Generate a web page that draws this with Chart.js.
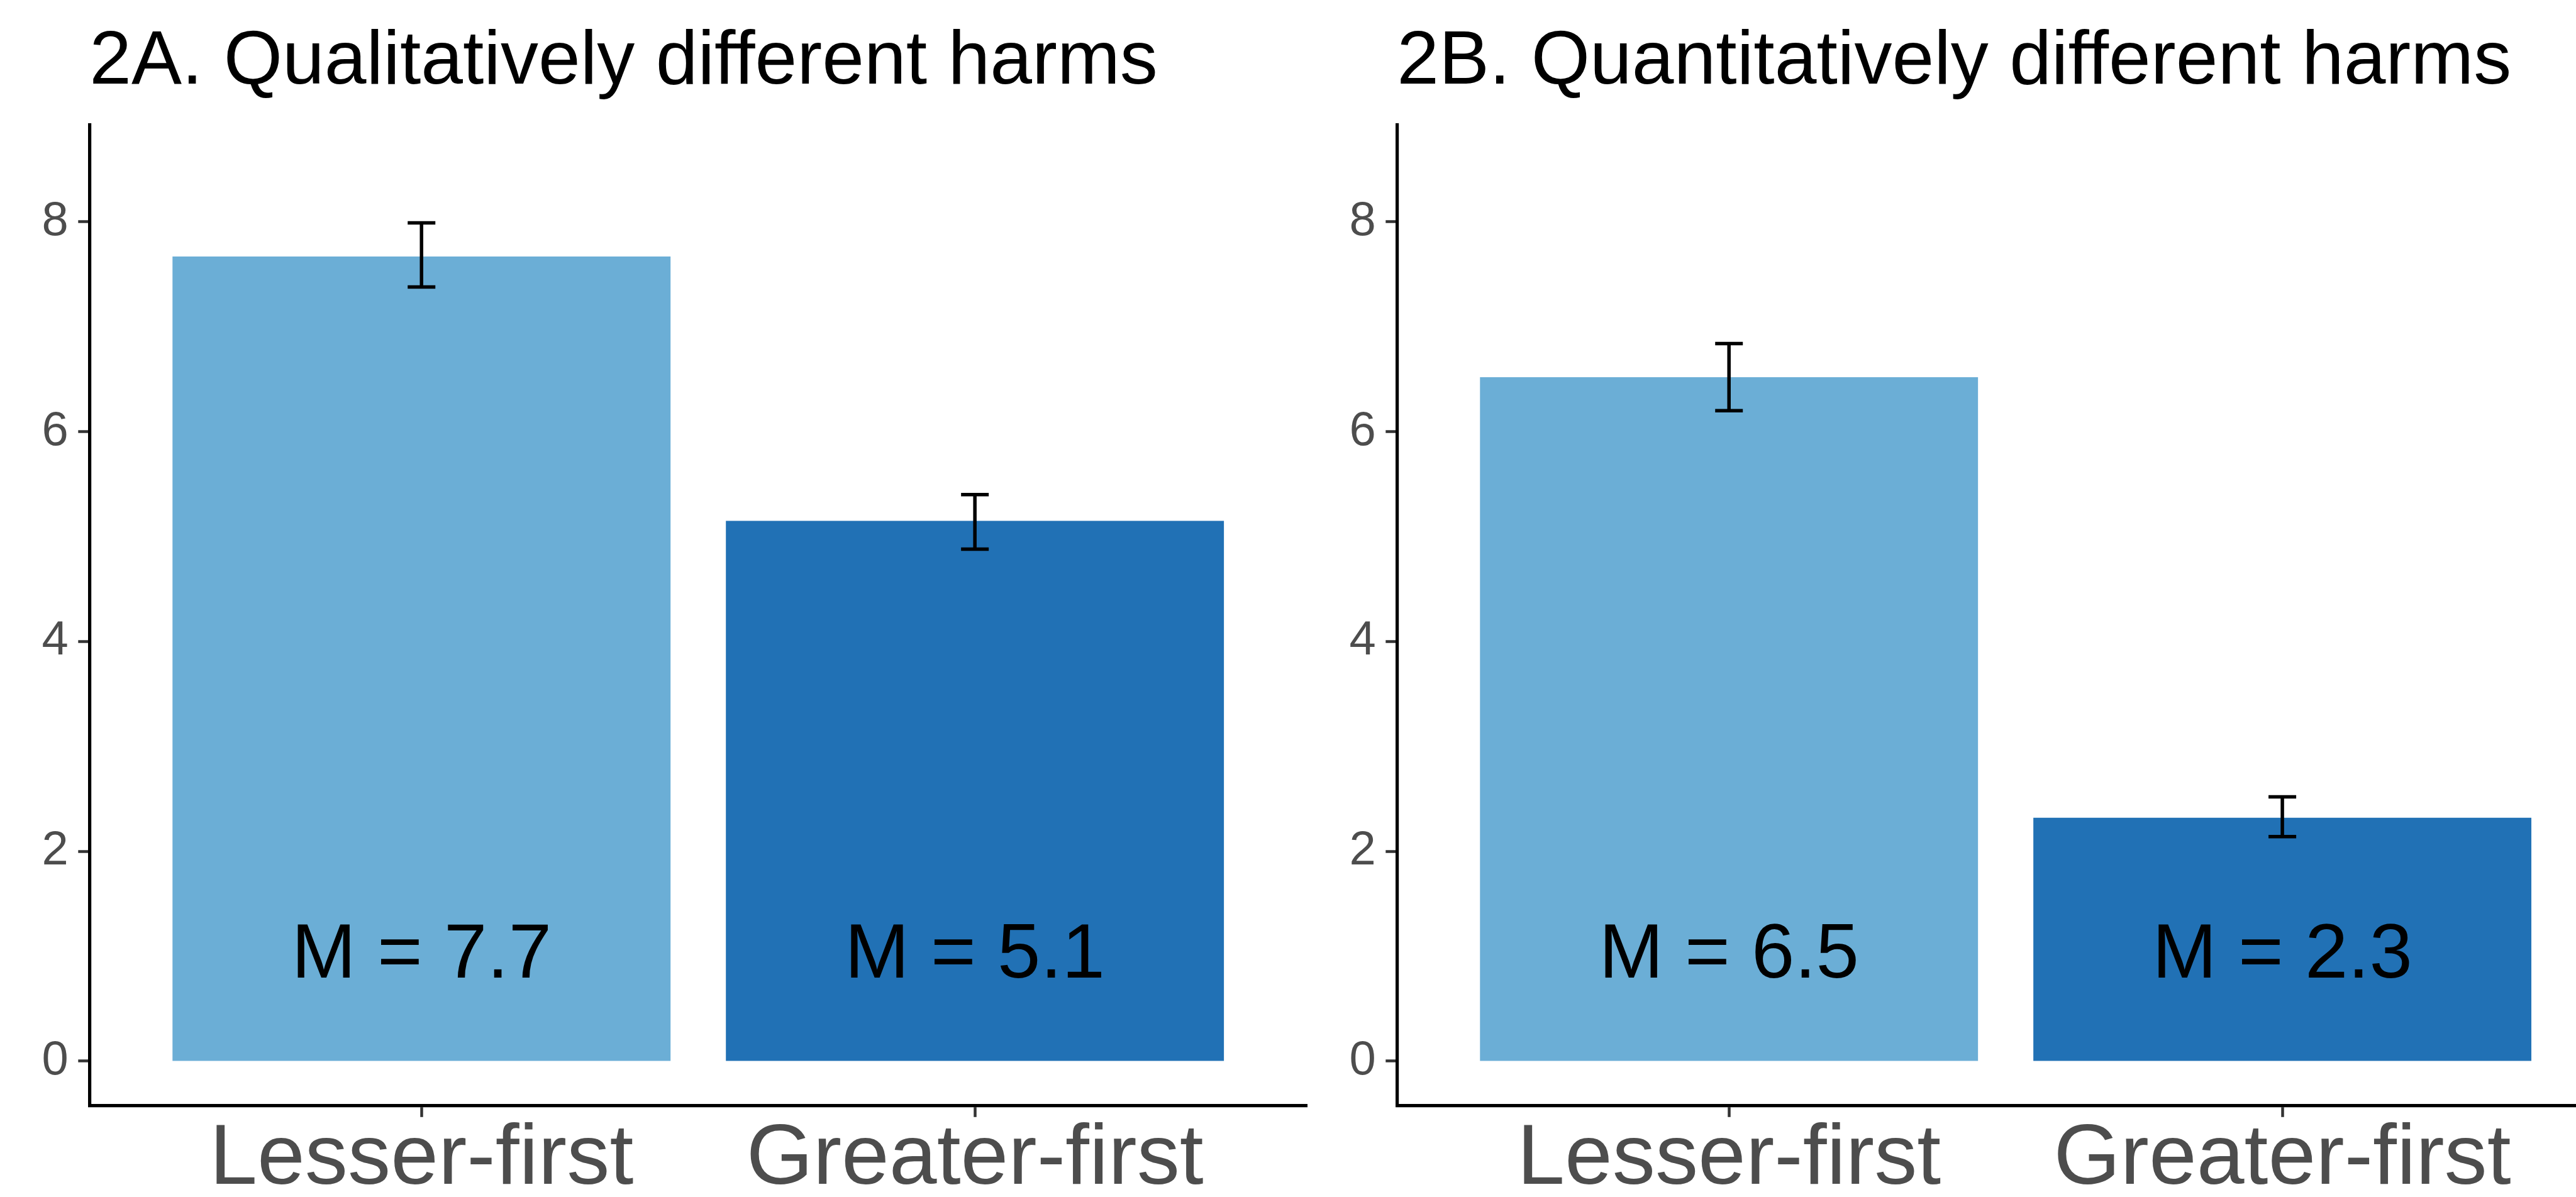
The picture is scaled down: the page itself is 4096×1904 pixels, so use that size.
<!DOCTYPE html>
<html>
<head>
<meta charset="utf-8">
<script src="https://cdn.jsdelivr.net/npm/chart.js@4.4.1/dist/chart.umd.min.js"></script>
<style>
  html, body { margin: 0; padding: 0; background: #fff; overflow: hidden; }
  body { width: 4096px; height: 1904px; position: relative; }
  canvas { position: absolute; top: 0; }
  #qual { left: 0; }
  #quant { left: 2080px; }
</style>
</head>
<body>
<canvas id="qual" width="2150" height="1904"></canvas>
<canvas id="quant" width="2200" height="1904"></canvas>
<script>
const categories = ['Lesser-first', 'Greater-first'];
const titles = ['2A. Qualitatively different harms', '2B. Quantitatively different harms'];

// 2A
const qualMeans = [7.67, 5.15];
const qualLower = [7.38, 4.88];
const qualUpper = [7.99, 5.40];
const qualLabels = ['M = 7.7', 'M = 5.1'];

// 2B
const quantMeans = [6.52, 2.32];
const quantLower = [6.20, 2.14];
const quantUpper = [6.84, 2.52];
const quantLabels = ['M = 6.5', 'M = 2.3'];

const yTicks = [0, 2, 4, 6, 8];
const barColors = ['#6BAED6', '#2171B5'];

const FONT = "'Liberation Sans', Arial, Helvetica, sans-serif";
Chart.defaults.font.family = FONT;

// error bars + "M = x" text, placed through the chart scales
const errorBars = {
  id: 'errorBars',
  afterDatasetsDraw(chart, args, opts) {
    const {ctx, scales: {x, y}} = chart;
    ctx.save();
    ctx.strokeStyle = '#000';
    ctx.lineWidth = 5.5;
    opts.lower.forEach((lo, i) => {
      const cx = x.getPixelForValue(i + 1);
      const hw = x.getPixelForValue(i + 1 + 0.025) - cx;
      const yl = y.getPixelForValue(lo);
      const yh = y.getPixelForValue(opts.upper[i]);
      ctx.beginPath();
      ctx.moveTo(cx, yl); ctx.lineTo(cx, yh);
      ctx.moveTo(cx - hw, yl); ctx.lineTo(cx + hw, yl);
      ctx.moveTo(cx - hw, yh); ctx.lineTo(cx + hw, yh);
      ctx.stroke();
    });
    ctx.fillStyle = '#000';
    ctx.font = '123px ' + FONT;
    ctx.textAlign = 'center';
    ctx.textBaseline = 'middle';
    opts.labels.forEach((t, i) => {
      ctx.fillText(t, x.getPixelForValue(i + 1), y.getPixelForValue(1));
    });
    ctx.restore();
  }
};

function makeChart(id, title, means, lower, upper, labels, yAxisWidth, padRight) {
  const axisBorder = { display: true, color: '#000', width: 5.2 };
  const axisGrid = { display: true, drawOnChartArea: false, drawTicks: true, tickLength: 18, tickColor: '#333333', tickWidth: 4.5, offset: false };
  return new Chart(document.getElementById(id), {
    type: 'bar',
    data: {
      datasets: [{
        data: means.map((m, i) => ({ x: i + 1, y: m })),
        backgroundColor: barColors,
        barPercentage: 0.9,
        categoryPercentage: 1.0
      }]
    },
    options: {
      responsive: false,
      animation: false,
      layout: { padding: { left: 0, right: padRight, top: 0, bottom: 0 } },
      plugins: {
        legend: { display: false },
        tooltip: { enabled: false },
        title: {
          display: true,
          text: title,
          align: 'start',
          fullSize: false,
          color: '#000',
          font: { size: 120, weight: 'normal', lineHeight: 1.2 },
          padding: { top: 28, bottom: 26.6 }
        },
        errorBars: { lower, upper, labels }
      },
      scales: {
        x: {
          type: 'linear',
          min: 0.4,
          max: 2.6,
          offset: false,
          afterBuildTicks: s => { s.ticks = categories.map((c, i) => ({ value: i + 1 })); },
          afterFit: s => { s.height = 145.2; },
          border: axisBorder,
          grid: axisGrid,
          ticks: {
            callback: v => categories[v - 1],
            color: '#4D4D4D',
            font: { size: 136.3, lineHeight: 1 },
            padding: 0,
            maxRotation: 0,
            autoSkip: false
          }
        },
        y: {
          min: -0.425,
          max: 8.925,
          afterBuildTicks: s => { s.ticks = yTicks.map(v => ({ value: v })); },
          afterFit: s => { s.width = yAxisWidth; },
          border: axisBorder,
          grid: axisGrid,
          ticks: { color: '#4D4D4D', font: { size: 76 }, padding: 15.5 }
        }
      }
    },
    plugins: [errorBars]
  });
}

makeChart('qual', titles[0], qualMeans, qualLower, qualUpper, qualLabels, 142.3, 71.9);
makeChart('quant', titles[1], quantMeans, quantLower, quantUpper, quantLabels, 141.3, 123);
</script>
</body>
</html>
